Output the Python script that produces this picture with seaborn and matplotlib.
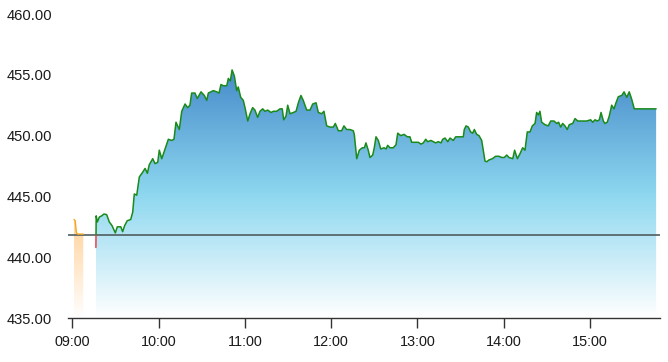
import numpy as np
import pandas as pd
import matplotlib
matplotlib.use("Agg")
import matplotlib.pyplot as plt
import seaborn as sns
from matplotlib.patches import Rectangle, PathPatch
from matplotlib.colors import LinearSegmentedColormap

# ---------------- data (minutes after 09:00, price) ----------------
prev_close = 441.85

pre_minutes = [1.2, 2.0, 2.8, 3.5, 7.6]
pre_prices = [443.1, 443.0, 442.05, 441.9, 441.9]

sess_minutes = [
    16.4, 16.6, 17.4, 18.8, 20.4, 22.0, 23.9, 25.7, 27.6, 29.9, 31.3, 33.7, 35.0, 36.4,
    38.2, 40.6, 42.0, 43.1, 44.8, 46.6, 49.0, 50.6, 52.2, 53.5, 55.9, 57.5, 59.4, 60.5,
    62.2, 64.5, 66.8, 69.1, 70.7, 72.1, 74.4, 76.1, 78.4, 80.2, 81.8, 83.0, 85.3, 86.9,
    89.5, 91.8, 93.5, 94.6, 98.1, 100.4, 102.0, 103.4, 105.0, 107.4, 108.5, 109.9, 111.1,
    112.7, 114.3, 115.4, 117.1, 118.9, 120.1, 122.0, 123.6, 125.4, 127.0, 128.9, 130.5,
    132.4, 134.0, 135.9, 138.2, 139.8, 142.1, 144.4, 146.0, 147.0, 148.6, 149.8, 151.4,
    153.7, 155.6, 157.2, 159.0, 160.6, 163.0, 165.3, 167.2, 169.5, 171.1, 173.4, 175.0,
    176.9, 179.2, 181.5, 182.9, 185.0, 187.3, 188.9, 190.8, 193.1, 195.4, 196.1, 197.8,
    199.6, 201.7, 203.1, 204.2, 205.8, 207.0, 208.9, 210.0, 211.2, 212.8, 214.5, 216.8,
    218.2, 219.3, 220.9, 223.2, 225.1, 226.3, 228.4, 230.7, 233.0, 234.8, 236.0, 238.3,
    240.6, 242.5, 244.1, 245.8, 247.1, 249.4, 251.0, 252.7, 254.5, 256.4, 257.6, 259.2,
    261.1, 262.7, 264.9, 266.6, 268.9, 270.8, 271.9, 272.6, 273.8, 275.4, 277.0, 278.4,
    279.6, 281.2, 282.8, 284.7, 285.8, 287.0, 288.2, 289.8, 292.1, 294.4, 296.7, 298.6,
    300.4, 302.1, 303.7, 306.3, 307.6, 309.5, 311.3, 313.2, 314.8, 316.4, 318.3, 319.9,
    321.8, 322.9, 324.1, 325.2, 326.4, 328.7, 331.0, 332.7, 335.0, 336.9, 338.2, 339.6,
    341.0, 342.6, 344.2, 345.6, 348.0, 349.6, 351.5, 354.2, 357.7, 360.5, 361.9, 363.5,
    365.1, 366.5, 367.7, 369.3, 370.4, 372.0, 373.4, 375.1, 376.7, 378.1, 379.7, 382.1,
    383.7, 385.6, 387.3, 389.0, 390.8, 406.0,
]
sess_prices = [
    440.8, 443.4, 442.9, 443.3, 443.4, 443.55, 443.5, 442.9, 442.6, 442.0, 442.5, 442.5, 442.1, 442.6,
    443.0, 443.1, 443.7, 445.2, 445.1, 446.6, 447.0, 447.3, 446.9, 447.6, 448.1, 447.7, 447.8, 448.8,
    448.1, 448.9, 449.7, 449.6, 449.7, 451.1, 450.5, 452.0, 452.6, 452.3, 452.5, 453.5, 453.5, 453.05,
    453.6, 453.3, 452.9, 453.5, 453.7, 453.6, 453.5, 454.2, 454.1, 454.1, 454.7, 454.5, 455.4,
    454.9, 453.7, 454.0, 453.15, 452.9, 452.3, 451.2, 451.8, 452.3, 452.1, 451.5, 452.0,
    452.2, 452.0, 452.1, 451.9, 452.0, 452.0, 452.2, 452.2, 451.3, 451.6, 452.5, 451.8,
    451.9, 452.0, 452.7, 453.3, 452.9, 452.1, 452.1, 452.6, 452.7, 451.9, 451.8, 452.0,
    450.8, 450.7, 450.7, 451.0, 450.4, 450.4, 450.8, 450.5, 450.5, 450.4, 450.1, 448.1,
    448.8, 449.0, 449.0, 449.4, 448.8, 448.2, 448.4, 449.0, 449.9, 449.6, 448.9, 449.0,
    448.9, 449.2, 449.0, 449.0, 449.25, 450.2, 450.0, 450.1, 449.9, 449.9, 449.45, 449.45,
    449.45, 449.3, 449.4, 449.7, 449.5, 449.6, 449.5, 449.4, 449.5, 449.4, 449.7, 449.8,
    449.5, 449.8, 449.6, 449.9, 449.9, 449.9, 449.9, 450.5, 450.8, 450.7, 450.3, 450.2,
    450.5, 450.1, 450.0, 449.6, 448.8, 447.9, 447.85, 448.0, 448.1, 448.3, 448.3, 448.2,
    448.2, 448.4, 448.2, 448.1, 448.8, 448.1, 448.5, 449.0, 448.8, 450.3, 450.3, 450.8,
    451.0, 451.9, 451.7, 452.0, 451.1, 450.9, 450.8, 451.2, 451.2, 451.0, 451.1, 450.7,
    451.0, 450.8, 450.5, 450.9, 451.0, 451.4, 451.2, 451.2, 451.2, 451.3, 451.1, 451.3,
    451.2, 451.3, 451.9, 451.2, 451.0, 451.1, 451.6, 452.5, 452.2, 452.7, 453.2, 453.3,
    453.6, 453.15, 453.6, 453.0, 452.2, 452.2,
]

y_ticks = [435, 440, 445, 450, 455, 460]
x_tick_minutes = [0, 60, 120, 180, 240, 300, 360]
x_tick_labels = ["09:00", "10:00", "11:00", "12:00", "13:00", "14:00", "15:00"]

# ---------------- styling ----------------
sns.set_theme(style="white")
plt.rcParams['font.family'] = ['Liberation Sans', 'DejaVu Sans']

Y_MIN, Y_MAX = 435, 460
X_MIN, X_MAX = -3.0, 408.7

fig = plt.figure(figsize=(6.68, 3.62), dpi=100)
ax = fig.add_axes([68 / 668, 44 / 362, 592 / 668, 304 / 362])


def gradient_fill(ax, x, y, stops, zorder):
    x = np.asarray(x, float)
    y = np.asarray(y, float)
    poly = ax.fill_between(x, y, Y_MIN, facecolor='none', edgecolor='none')
    path = poly.get_paths()[0]
    patch = PathPatch(path, transform=ax.transData, facecolor='none', edgecolor='none')
    ax.add_patch(patch)
    top = y.max()
    cmap = LinearSegmentedColormap.from_list(
        'g', [((v - Y_MIN) / (top - Y_MIN), c) for v, c in stops])
    grad = np.linspace(1, 0, 256).reshape(-1, 1)
    im = ax.imshow(grad, cmap=cmap, vmin=0, vmax=1, aspect='auto',
                   extent=[x.min(), x.max(), Y_MIN, top], origin='upper',
                   zorder=zorder, interpolation='bilinear')
    im.set_clip_path(patch)
    return im


# session gradient
gradient_fill(ax, sess_minutes, sess_prices,
              [(Y_MIN, '#ffffff'), (445, '#8fd8f0'), (455.4, '#468bca')], zorder=1)
# pre-open gradient
gradient_fill(ax, pre_minutes, pre_prices,
              [(Y_MIN, '#ffffff'), (443.1, '#ffd29a')], zorder=1)

# previous close reference line
ax.axhline(prev_close, color='#4f5d60', lw=1.2, zorder=3)

# pre-open line
sns.lineplot(x=pre_minutes, y=pre_prices, ax=ax, color='#f5a623', lw=1.0,
             estimator=None, sort=False, zorder=4)

# session line: green above previous close, red below
sns.lineplot(x=sess_minutes, y=sess_prices, ax=ax, color='#1a8a1a', lw=1.1,
             estimator=None, sort=False, zorder=4)
green_line = ax.lines[-1]
green_line.set_clip_path(Rectangle((X_MIN, prev_close), X_MAX - X_MIN, Y_MAX - prev_close,
                                   transform=ax.transData))
sns.lineplot(x=sess_minutes, y=sess_prices, ax=ax, color='#e8424a', lw=1.1,
             estimator=None, sort=False, zorder=4)
red_line = ax.lines[-1]
red_line.set_clip_path(Rectangle((X_MIN, Y_MIN), X_MAX - X_MIN, prev_close - Y_MIN,
                                 transform=ax.transData))

ax.set_xlim(X_MIN, X_MAX)
ax.set_ylim(Y_MIN, Y_MAX)
ax.set_yticks(y_ticks)
ax.set_yticklabels([f"{v:.2f}" for v in y_ticks])
ax.set_xticks(x_tick_minutes)
ax.set_xticklabels(x_tick_labels)
ax.set_xlabel("")
ax.set_ylabel("")

for s in ['top', 'right', 'left']:
    ax.spines[s].set_visible(False)
ax.spines['bottom'].set_color('#333333')
ax.spines['bottom'].set_linewidth(1.0)
ax.spines['bottom'].set_zorder(5)

ax.tick_params(axis='y', length=0, pad=11.5, labelsize=10.6, labelcolor='#1a1a1a')
ax.tick_params(axis='x', length=7, width=1.0, color='#333333', pad=5.5,
               labelsize=10.4, labelcolor='#1a1a1a', bottom=True)
ax.grid(False)
ax.set_facecolor('white')

fig.savefig("out.png", dpi=100, facecolor='white')
